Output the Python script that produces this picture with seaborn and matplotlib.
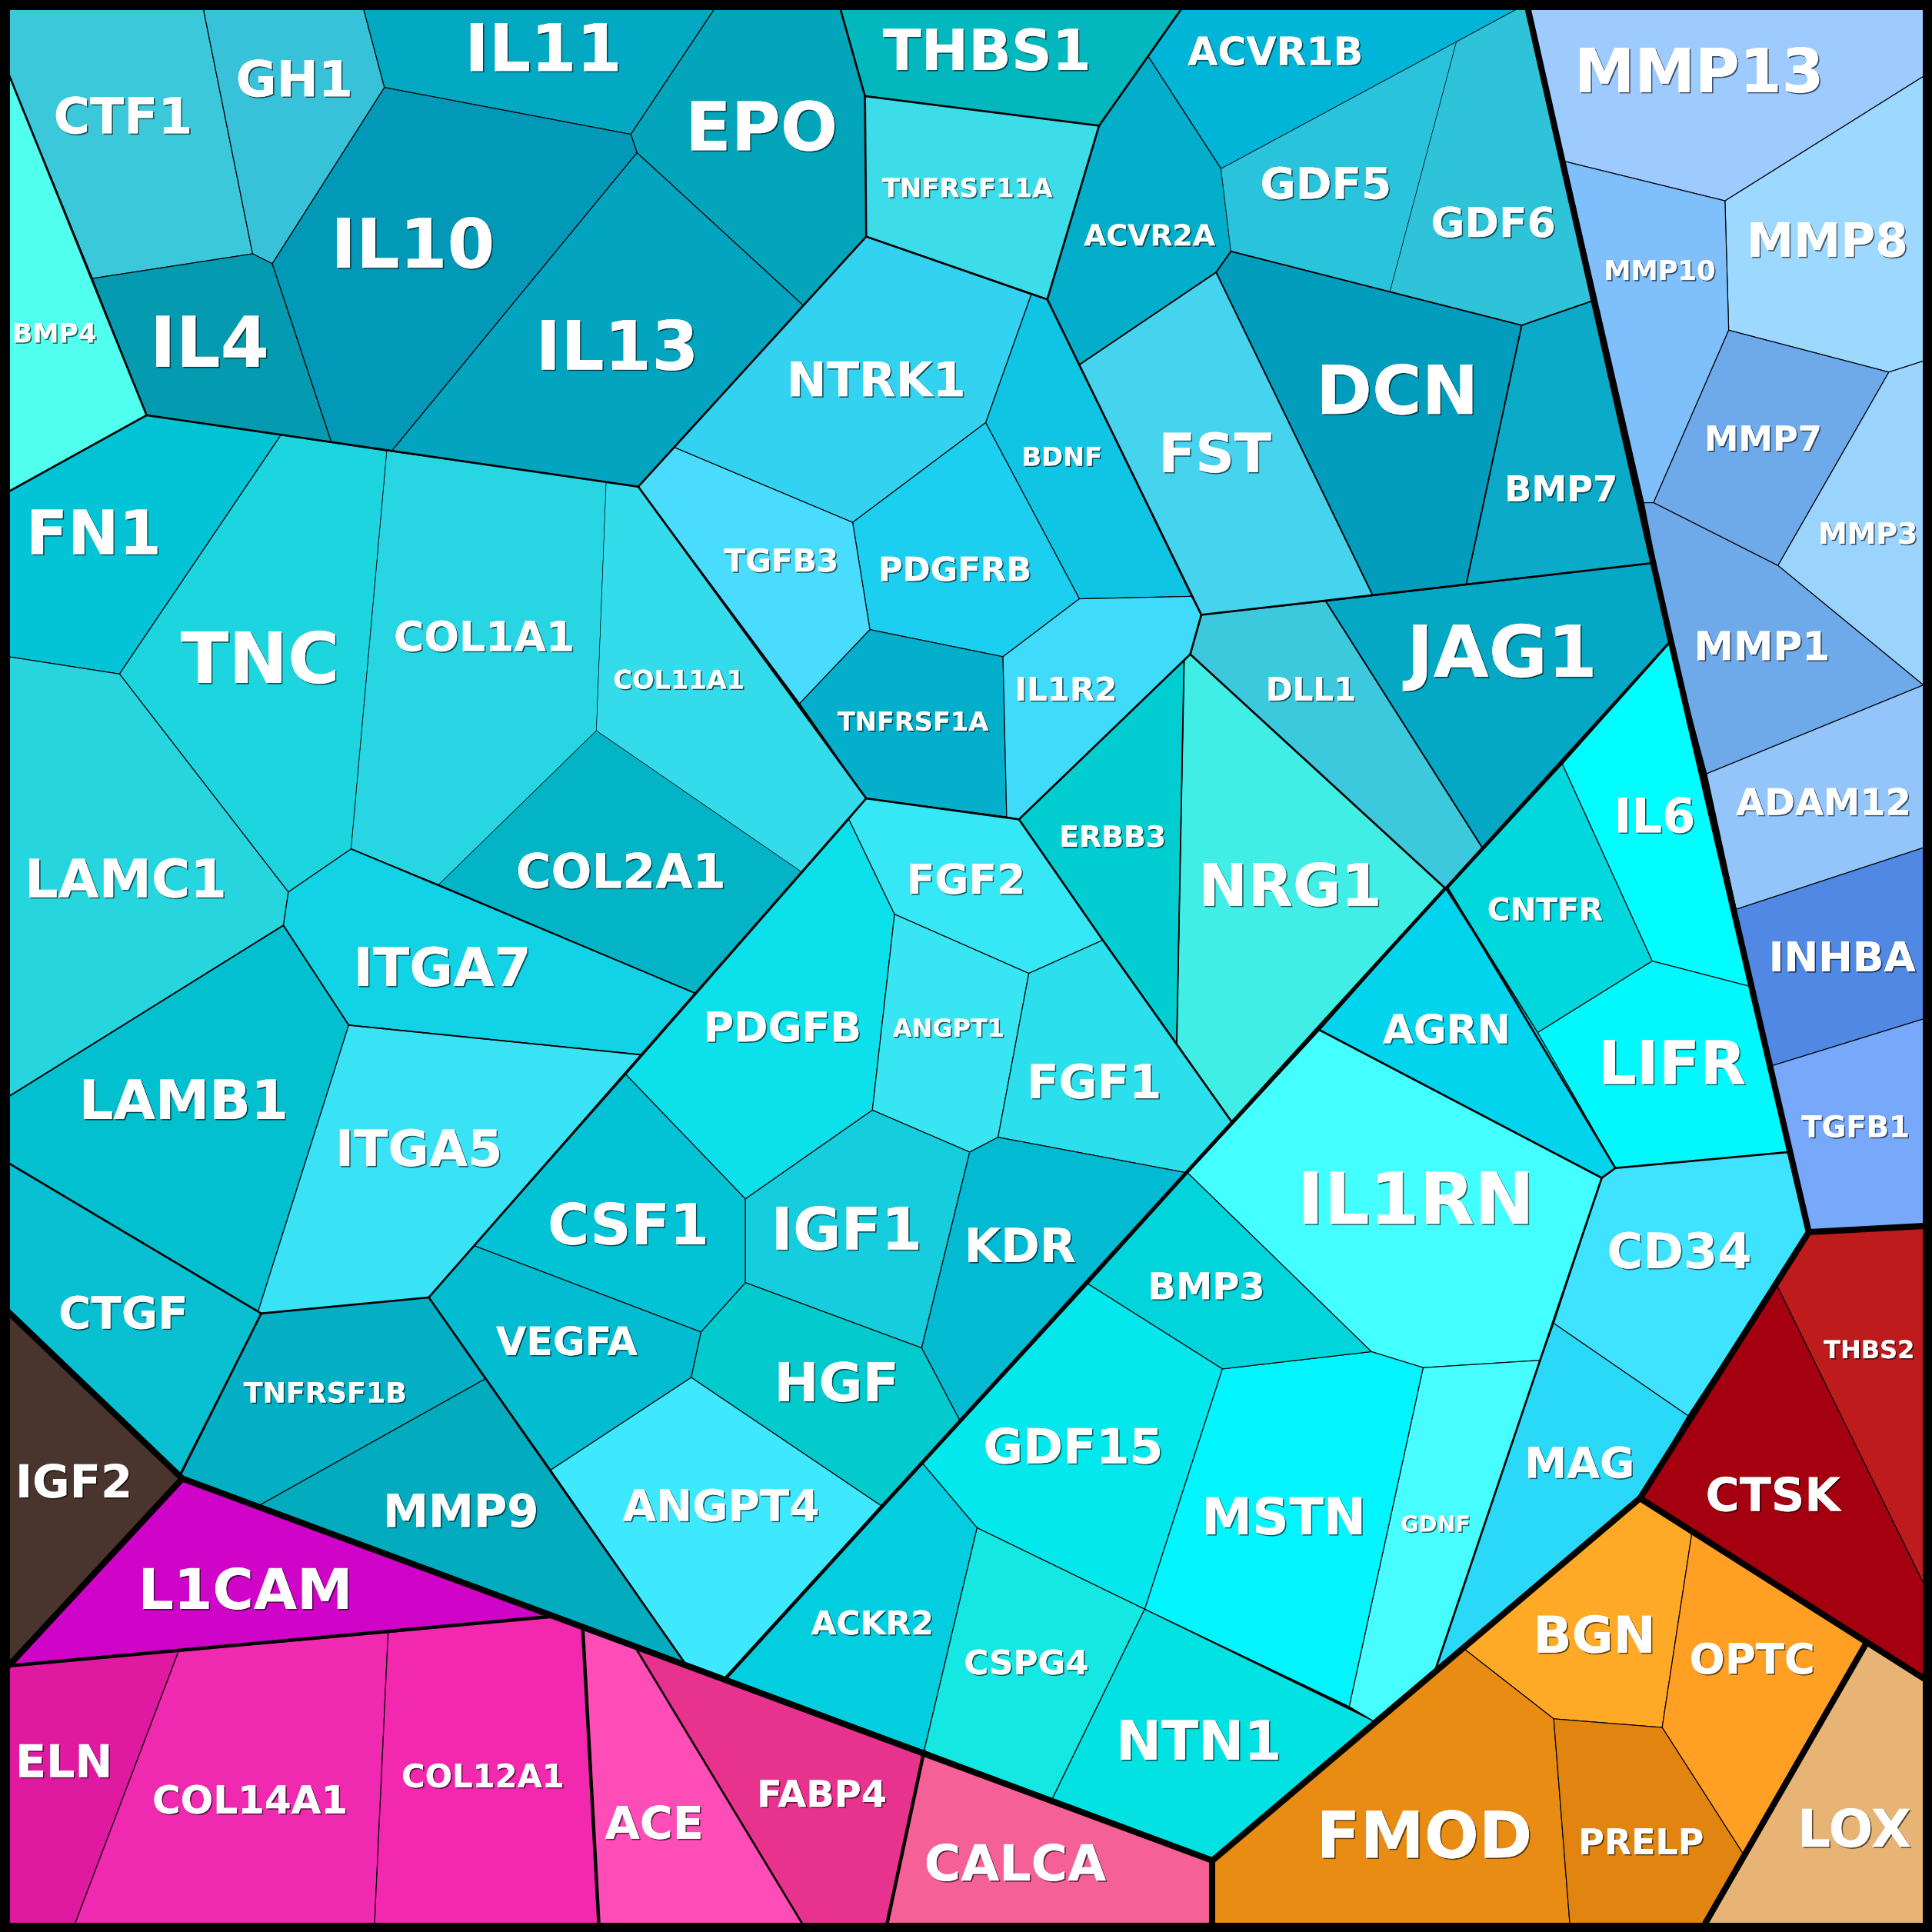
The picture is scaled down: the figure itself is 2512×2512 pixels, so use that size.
import matplotlib
matplotlib.use("Agg")
import matplotlib.pyplot as plt
import matplotlib.patheffects as pe
import pandas as pd
import seaborn as sns

genes = [
    "CTF1", "GH1", "IL11", "EPO", "THBS1", "ACVR1B", "BMP4", "IL4", "IL10", "IL13",
    "TNFRSF11A", "ACVR2A", "GDF5", "GDF6", "DCN", "BMP7", "FST", "NTRK1", "BDNF", "PDGFRB",
    "TGFB3", "TNFRSF1A", "IL1R2", "JAG1", "DLL1", "NRG1", "ERBB3", "FN1", "TNC", "COL1A1",
    "COL11A1", "COL2A1", "LAMC1", "ITGA7", "LAMB1", "ITGA5", "CTGF", "TNFRSF1B", "MMP9", "VEGFA",
    "CSF1", "PDGFB", "FGF2", "ANGPT1", "FGF1", "IGF1", "KDR", "HGF", "ANGPT4", "AGRN",
    "CNTFR", "IL6", "LIFR", "IL1RN", "CD34", "MAG", "GDNF", "MSTN", "BMP3", "GDF15",
    "ACKR2", "CSPG4", "NTN1", "MMP13", "MMP8", "MMP10", "MMP7", "MMP3", "MMP1", "ADAM12",
    "INHBA", "TGFB1", "THBS2", "CTSK", "BGN", "OPTC", "FMOD", "PRELP", "LOX", "ELN",
    "COL14A1", "COL12A1", "ACE", "FABP4", "CALCA", "L1CAM", "IGF2",
]

colors = [
    "#3BC8DA", "#38C2DA", "#03A9C2", "#03A5BB", "#02B8BE", "#01B5D8", "#50FFEE", "#049BB0", "#0299B8", "#03A4C0",
    "#3CDDE8", "#03AECA", "#2AC3DC", "#2FC3DA", "#029DBC", "#0AAAC8", "#46D3EE", "#33D2F0", "#10C5E4", "#1CCFF0",
    "#4ADCFF", "#03AFCB", "#40DBFB", "#04A8C4", "#3CC9DE", "#40EEE6", "#02CED2", "#02C4D6", "#1CD5DE", "#28D5E3",
    "#34DBEB", "#02B4C6", "#26D5DE", "#12D2E6", "#03C0D0", "#3AE2F6", "#08C0D2", "#02AFC4", "#02ABBE", "#02BCD2",
    "#02C2D6", "#0BE0EB", "#36E8F5", "#38E5F2", "#2BE0EC", "#15CDDC", "#03BAD3", "#03CACC", "#3EE8FF", "#02D4EE",
    "#01D8DE", "#00FDFF", "#01F8FC", "#44FFFF", "#40E3FF", "#2AD8F8", "#48FDFF", "#01F5FF", "#02D4DC", "#02E8EC",
    "#03CEE0", "#15E8E2", "#03E2E2", "#9DCAFF", "#9CD8FF", "#7FBFFC", "#6EAAEA", "#9AD3FC", "#6EAAEA", "#93C5FB",
    "#5088E3", "#78A8FA", "#BE1C1C", "#A5000F", "#FFAA26", "#FFA024", "#E88C14", "#E28510", "#E8B476", "#E01AA0",
    "#F02AB0", "#F228AE", "#FF4DB8", "#E8338E", "#F56196", "#D004C8", "#4A342E",
]

# cell outlines
cells = [
    [(7, 7), (165, 7), (205, 206), (75, 226), (7, 60)],
    [(165, 7), (295, 7), (312, 71), (221, 214), (205, 206)],
    [(295, 7), (580, 7), (512, 109), (312, 71)],
    [(580, 7), (682, 7), (702, 78), (703, 192), (652, 248), (517, 124), (512, 109)],
    [(682, 7), (959, 7), (892, 102), (702, 78)],
    [(959, 7), (1232, 7), (1182, 34), (991, 137), (932, 46)],
    [(7, 60), (75, 226), (119, 337), (7, 399)],
    [(75, 226), (205, 206), (221, 214), (269, 359), (119, 337)],
    [(312, 71), (512, 109), (517, 124), (318, 366), (269, 359), (221, 214)],
    [(517, 124), (652, 248), (518, 395), (318, 366)],
    [(702, 78), (892, 102), (850, 243), (703, 192)],
    [(932, 46), (991, 137), (999, 204), (987, 221), (876, 296), (850, 243), (892, 102)],
    [(991, 137), (1182, 34), (1128, 237), (999, 204)],
    [(1182, 34), (1232, 7), (1240, 7), (1293, 244), (1235, 264), (1128, 237)],
    [(999, 204), (1128, 237), (1235, 264), (1190, 474), (1114, 483), (987, 221)],
    [(1235, 264), (1293, 244), (1341, 457), (1190, 474)],
    [(987, 221), (1114, 483), (975, 499), (876, 296)],
    [(703, 192), (837, 239), (800, 343), (692, 424), (547, 363)],
    [(837, 239), (850, 243), (967, 484), (876, 486), (800, 343)],
    [(800, 343), (876, 486), (814, 533), (706, 511), (692, 424)],
    [(547, 363), (692, 424), (706, 511), (649, 571), (518, 395)],
    [(706, 511), (814, 533), (817, 663), (703, 648), (649, 571)],
    [(814, 533), (876, 486), (967, 484), (975, 499), (966, 531), (827, 665), (817, 663)],
    [(1076, 488), (1341, 457), (1357, 520), (1203, 688)],
    [(975, 499), (1076, 488), (1203, 688), (1173, 721), (966, 531)],
    [(961, 536), (966, 531), (1173, 721), (1000, 911), (955, 847)],
    [(827, 665), (961, 536), (955, 847), (895, 763)],
    [(7, 399), (119, 337), (228, 353), (97, 547), (7, 533)],
    [(228, 353), (314, 366), (285, 689), (234, 724), (97, 547)],
    [(314, 366), (492, 391), (484, 593), (356, 718), (285, 689)],
    [(492, 391), (518, 395), (703, 648), (651, 708), (484, 593)],
    [(484, 593), (651, 708), (564, 806), (356, 718)],
    [(7, 533), (97, 547), (234, 724), (230, 751), (7, 890)],
    [(285, 689), (356, 718), (564, 806), (520, 856), (283, 832), (230, 751), (234, 724)],
    [(7, 890), (230, 751), (283, 832), (209, 1066), (7, 944)],
    [(283, 832), (520, 856), (348, 1053), (209, 1066)],
    [(7, 944), (212, 1066), (146, 1196), (7, 1065)],
    [(212, 1066), (348, 1053), (394, 1119), (210, 1222), (146, 1198)],
    [(210, 1222), (394, 1119), (556, 1350)],
    [(348, 1053), (385, 1011), (569, 1081), (561, 1118), (447, 1193)],
    [(508, 872), (605, 973), (605, 1041), (569, 1081), (385, 1011)],
    [(689, 665), (726, 742), (708, 901), (605, 973), (508, 872)],
    [(703, 648), (817, 663), (827, 665), (895, 763), (835, 790), (726, 742), (689, 665)],
    [(726, 742), (835, 790), (810, 923), (787, 935), (708, 901)],
    [(835, 790), (895, 763), (955, 847), (1000, 911), (964, 952), (810, 923)],
    [(708, 901), (787, 935), (748, 1094), (605, 1041), (605, 973)],
    [(787, 935), (810, 923), (964, 952), (779, 1153), (748, 1094)],
    [(605, 1041), (748, 1094), (779, 1153), (715, 1222), (561, 1118), (569, 1081)],
    [(561, 1118), (715, 1222), (589, 1362), (556, 1350), (447, 1193)],
    [(1173, 721), (1248, 838), (1311, 948), (1300, 956), (1071, 836)],
    [(1175, 721), (1268, 620), (1341, 780), (1248, 838)],
    [(1268, 620), (1357, 520), (1422, 801), (1341, 780)],
    [(1248, 838), (1341, 780), (1422, 801), (1452, 935), (1311, 948)],
    [(1071, 836), (1300, 956), (1250, 1104), (1155, 1110), (1113, 1097), (964, 952)],
    [(1300, 956), (1311, 948), (1452, 935), (1468, 1000), (1370, 1149), (1261, 1074)],
    [(1261, 1074), (1370, 1149), (1331, 1216), (1165, 1355), (1250, 1104)],
    [(1155, 1110), (1250, 1104), (1165, 1355), (1115, 1397), (1095, 1385)],
    [(992, 1111), (1113, 1097), (1155, 1110), (1095, 1385), (929, 1306)],
    [(964, 952), (1113, 1097), (992, 1111), (883, 1042)],
    [(883, 1042), (992, 1111), (929, 1306), (793, 1240), (749, 1188)],
    [(749, 1188), (793, 1240), (750, 1421), (589, 1362)],
    [(793, 1240), (929, 1306), (854, 1460), (750, 1421)],
    [(929, 1306), (1115, 1397), (984, 1510), (854, 1460)],
    [(1240, 7), (1561, 7), (1561, 62), (1400, 163), (1270, 131)],
    [(1400, 163), (1561, 62), (1561, 293), (1533, 302), (1403, 268)],
    [(1270, 131), (1400, 163), (1403, 268), (1342, 408), (1334, 408)],
    [(1403, 268), (1533, 302), (1443, 459), (1342, 408)],
    [(1533, 302), (1561, 293), (1561, 556), (1443, 459)],
    [(1334, 408), (1342, 408), (1443, 459), (1561, 556), (1385, 628), (1356, 520)],
    [(1385, 628), (1561, 556), (1561, 688), (1409, 738)],
    [(1409, 738), (1561, 688), (1561, 827), (1438, 865)],
    [(1438, 865), (1561, 827), (1561, 995), (1468, 1000)],
    [(1442, 1043), (1468, 1000), (1561, 995), (1561, 1285)],
    [(1442, 1043), (1561, 1285), (1561, 1362), (1515, 1333), (1373, 1245), (1331, 1216)],
    [(1331, 1216), (1373, 1245), (1349, 1402), (1261, 1395), (1188, 1338)],
    [(1373, 1245), (1515, 1333), (1415, 1505), (1349, 1402)],
    [(1188, 1338), (1261, 1395), (1274, 1561), (984, 1561), (984, 1510)],
    [(1261, 1395), (1349, 1402), (1415, 1505), (1384, 1561), (1274, 1561)],
    [(1515, 1333), (1561, 1362), (1561, 1561), (1384, 1561), (1415, 1505)],
    [(7, 1352), (145, 1340), (61, 1561), (7, 1561)],
    [(145, 1340), (315, 1325), (304, 1561), (61, 1561)],
    [(315, 1325), (447, 1312), (473, 1322), (486, 1561), (304, 1561)],
    [(473, 1322), (515, 1336), (651, 1561), (486, 1561)],
    [(515, 1336), (750, 1421), (720, 1561), (651, 1561)],
    [(750, 1421), (984, 1510), (984, 1561), (720, 1561)],
    [(7, 1352), (148, 1200), (447, 1312)],
    [(7, 1065), (148, 1200), (7, 1352)],
]

label_x = [
    100, 239, 441, 618, 801, 1035, 44, 170, 335, 501,
    785, 933, 1076, 1212, 1134, 1267, 986, 711, 862, 775,
    634, 741, 865, 1219, 1064, 1047, 903, 76, 211, 393,
    551, 504, 102, 359, 149, 340, 100, 264, 374, 460,
    510, 635, 784, 770, 888, 687, 828, 679, 585, 1174,
    1254, 1343, 1357, 1149, 1363, 1282, 1165, 1042, 979, 871,
    708, 833, 973, 1379, 1483, 1347, 1431, 1516, 1430, 1480,
    1495, 1506, 1517, 1439, 1294, 1422, 1156, 1332, 1505, 52,
    203, 392, 531, 667, 824, 199, 60,
]
label_y = [
    97, 67, 43, 107, 44, 44, 272, 282, 202, 285,
    154, 193, 152, 183, 321, 399, 371, 311, 372, 464,
    457, 587, 561, 533, 561, 722, 681, 436, 538, 519,
    553, 710, 716, 788, 896, 935, 1068, 1132, 1229, 1091,
    997, 836, 716, 836, 881, 1001, 1014, 1125, 1225, 838,
    740, 665, 866, 977, 1018, 1190, 1238, 1234, 1046, 1177,
    1319, 1351, 1416, 61, 198, 221, 358, 435, 527, 653,
    779, 916, 1097, 1216, 1330, 1349, 1493, 1497, 1487, 1432,
    1463, 1443, 1482, 1458, 1515, 1293, 1205,
]
label_pt = [
    23.3, 23.3, 30.7, 31.5, 26.4, 18.2, 12.4, 32.7, 32, 31.8,
    12.2, 13.6, 20.3, 19.3, 31.7, 16.6, 25.3, 22.3, 12.1, 15.6,
    14.7, 12.1, 15.1, 33.5, 15.1, 27.5, 13.6, 28.6, 33, 19.3,
    12.1, 22.4, 24.7, 24.9, 25.4, 23.4, 20.8, 13.1, 21.3, 18.3,
    26.5, 19.3, 19.3, 11.5, 21.9, 27.5, 22, 25, 20.3, 18.7,
    14.6, 22.4, 28.1, 33.5, 22.9, 19.9, 10.3, 23.8, 17.2, 22.6,
    15.3, 15.7, 25.4, 28.4, 22.1, 12.7, 16.1, 13.6, 18.6, 17.2,
    19.2, 13.9, 11.5, 21.7, 23.7, 19.6, 30.1, 16.5, 24.4, 21.1,
    18, 15, 21.1, 17.2, 23.3, 26.2, 21.3,
]

# cells whose inner edges are drawn very fine
faint_cells = ["COL1A1", "COL11A1", "COL2A1", "GDF5", "GDF6"]

# slightly heavier edges inside the groups
light_edges = [
    [(876, 296), (987, 221), (1114, 483)],
    [(987, 221), (999, 204), (1235, 264), (1293, 244)],
    [(1235, 264), (1190, 474)],
    [(961, 536), (955, 847)],
    [(1076, 488), (1203, 688)],
    [(285, 689), (564, 806)],
    [(283, 832), (520, 856)],
    [(7, 890), (230, 751), (283, 832)],
]

# heavier edges between the middle level groups
mid_edges = [
    [(7, 399), (119, 337), (518, 395), (703, 648), (827, 665), (966, 531), (975, 499), (1341, 457)],
    [(518, 395), (703, 192), (850, 243), (975, 499)],
    [(7, 60), (119, 337)],
    [(682, 7), (702, 78), (703, 192)],
    [(702, 78), (892, 102), (850, 243)],
    [(892, 102), (959, 7)],
    [(966, 531), (1173, 721), (1356, 520)],
    [(827, 665), (895, 763), (1000, 911)],
    [(1175, 721), (1311, 948), (1452, 935)],
    [(1071, 836), (1300, 956), (1165, 1355)],
    [(1311, 948), (1300, 956)],
    [(703, 648), (348, 1053), (556, 1350)],
    [(7, 944), (212, 1066), (146, 1198)],
    [(212, 1066), (348, 1053)],
    [(515, 1336), (651, 1561)],
]

# the long edge through the cyan group and the splits in the pink group
split_edges = [
    [(1173, 721), (589, 1362)],
    [(7, 1352), (447, 1312)],
    [(473, 1322), (486, 1561)],
    [(750, 1421), (720, 1561)],
]

# heaviest edges between the top level groups
top_edges = [
    [(1240, 7), (1356, 520), (1468, 1000), (1331, 1216), (984, 1510), (148, 1200), (7, 1065)],
    [(1468, 1000), (1561, 995)],
    [(1331, 1216), (1561, 1362)],
    [(1515, 1333), (1384, 1561)],
    [(984, 1510), (984, 1561)],
    [(148, 1200), (7, 1352)],
]

frame_edges = [
    [(0, 0), (1568, 0), (1568, 1568), (0, 1568), (0, 0)],
]


def edges_frame(edges):
    rows = []
    for i, edge in enumerate(edges):
        for x, y in edge:
            rows.append({"edge": i, "x": x, "y": y})
    return pd.DataFrame(rows)


sns.set_theme(style="white")

fig = plt.figure(figsize=(12.56, 12.56), dpi=200)
ax = fig.add_axes([0, 0, 1, 1])
ax.set_facecolor("black")

for gene, cell, color in zip(genes, cells, colors):
    xs, ys = zip(*cell)
    width = 0.2 if gene in faint_cells else 0.42
    ax.fill(xs, ys, facecolor=color, edgecolor="black", linewidth=width, joinstyle="round")

for edges, width in [
    (light_edges, 0.65),
    (mid_edges, 0.95),
    (split_edges, 1.6),
    (top_edges, 2.9),
    (frame_edges, 9.0),
]:
    sns.lineplot(
        data=edges_frame(edges), x="x", y="y", units="edge", estimator=None, sort=False,
        color="black", linewidth=width, ax=ax, legend=False,
    )

shadow = [pe.withSimplePatchShadow(offset=(0.6, -0.6), shadow_rgbFace="black", alpha=0.6), pe.Normal()]
for gene, x, y, pt in zip(genes, label_x, label_y, label_pt):
    ax.text(
        x, y, gene, color="white", fontsize=pt, fontweight="bold", family="DejaVu Sans",
        ha="center", va="center", path_effects=shadow,
    )

ax.set_xlim(0, 1568)
ax.set_ylim(1568, 0)
ax.set_xlabel("")
ax.set_ylabel("")
ax.set_xticks([])
ax.set_yticks([])
sns.despine(ax=ax, left=True, bottom=True)

fig.savefig("out.png", dpi=200, facecolor="black")
